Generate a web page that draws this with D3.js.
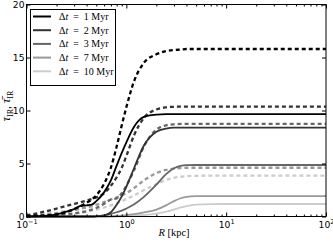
<!doctype html>
<html>
<head>
<style>
    body { margin: 0; background: #fff; }
    .tick text { font-family: "DejaVu Sans", sans-serif; font-size: 9.2px; fill: #000; }
    .serif { font-family: "Liberation Serif", "DejaVu Serif", serif; }
</style>
<script src="https://cdn.jsdelivr.net/npm/d3@7/dist/d3.min.js"></script>
</head>
<body>
<svg width="333" height="245"></svg>
<script>
// radius grid (kpc) shared by every curve
var radiusKpc = [0.1, 0.15, 0.2, 0.25, 0.3, 0.35, 0.4, 0.45, 0.5, 0.6, 0.7, 0.8, 0.9, 1.0,
                 1.2, 1.5, 2, 2.5, 3, 3.5, 4, 5, 7, 10, 20, 50, 100];

// solid = tau_IR, dashed = tau_IR bar
var tau1    = [0, 0.05, 0.2, 0.45, 0.7, 1.0, 1.05, 1.12, 1.45, 2.3, 3.4, 4.8, 6.0, 7.0,
               8.5, 9.4, 9.62, 9.65, 9.65, 9.65, 9.65, 9.65, 9.65, 9.65, 9.65, 9.65, 9.65];
var tauBar1 = [0.05, 0.1, 0.2, 0.4, 0.7, 1.0, 1.3, 1.6, 2.0, 3.1, 4.6, 6.6, 8.6, 10.3,
               12.8, 14.5, 15.3, 15.6, 15.7, 15.75, 15.8, 15.8, 15.8, 15.8, 15.8, 15.8, 15.8];
var tau2    = [0, 0, 0, 0, 0, 0, 0, 0, 0.02, 0.1, 0.4, 1.1, 1.9, 2.8,
               4.6, 6.7, 8.0, 8.3, 8.38, 8.38, 8.38, 8.38, 8.38, 8.38, 8.38, 8.38, 8.38];
var tauBar2 = [0.1, 0.45, 0.75, 1.0, 1.2, 1.35, 1.5, 1.65, 1.8, 2.2, 2.9, 3.7, 4.6, 5.7,
               7.7, 9.3, 10.1, 10.3, 10.35, 10.36, 10.36, 10.36, 10.36, 10.36, 10.36, 10.36, 10.36];
var tau3    = [0, 0, 0, 0, 0, 0, 0, 0, 0.03, 0.1, 0.25, 0.4, 0.55, 0.75,
               1.15, 1.85, 3.0, 4.0, 4.55, 4.78, 4.84, 4.86, 4.86, 4.86, 4.86, 4.86, 4.86];
var tauBar3 = [0, 0.05, 0.1, 0.2, 0.3, 0.4, 0.5, 0.65, 0.8, 1.2, 1.6, 1.7, 2.2, 2.9,
               4.4, 6.6, 8.2, 8.6, 8.7, 8.73, 8.73, 8.73, 8.73, 8.73, 8.73, 8.73, 8.73];
var tau7    = [0, 0, 0, 0, 0, 0, 0, 0, 0, 0, 0.02, 0.05, 0.08, 0.12,
               0.22, 0.38, 0.65, 1.05, 1.45, 1.72, 1.86, 1.92, 1.93, 1.93, 1.93, 1.93, 1.93];
var tauBar7 = [0.05, 0.2, 0.35, 0.5, 0.6, 0.75, 0.85, 0.95, 1.1, 1.35, 1.6, 1.8, 2.0, 2.2,
               2.7, 3.4, 4.1, 4.4, 4.52, 4.57, 4.6, 4.6, 4.6, 4.6, 4.6, 4.6, 4.6];
var tau10   = [0, 0, 0, 0, 0, 0, 0, 0, 0, 0, 0, 0, 0.01, 0.03,
               0.07, 0.14, 0.28, 0.45, 0.65, 0.85, 0.98, 1.12, 1.17, 1.18, 1.18, 1.18, 1.18];
var tauBar10 = [0, 0.03, 0.08, 0.15, 0.25, 0.35, 0.45, 0.55, 0.65, 0.85, 1.05, 1.25, 1.45, 1.65,
                2.0, 2.5, 3.05, 3.45, 3.65, 3.75, 3.8, 3.84, 3.85, 3.85, 3.85, 3.85, 3.85];

var deltaT = ["1", "2", "3", "7", "10"];
var yTicks = [0, 5, 10, 15, 20];
var xTicks = [0.1, 1, 10, 100];
var xTickExp = ["\u22121", "0", "1", "2"];

var solidSeries = [tau1, tau2, tau3, tau7, tau10];
var dashedSeries = [tauBar1, tauBar2, tauBar3, tauBar7, tauBar10];
var colors = ["#000000", "#333333", "#666666", "#999999", "#cccccc"];

var svg = d3.select("svg"),
    plotLeft = 26.5, plotRight = 326, plotTop = 4.5, plotBottom = 216.5;

var x = d3.scaleLog().domain([0.1, 100]).range([plotLeft, plotRight]),
    y = d3.scaleLinear().domain([0, 20]).range([plotBottom, plotTop]);

// minor ticks for log axis
var minor = [];
[0.1, 1, 10].forEach(function(d) {
    for (var m = 2; m <= 9; m++) minor.push(d * m);
});

var line = d3.line()
    .x(function(d) { return x(d[0]); })
    .y(function(d) { return y(d[1]); })
    .curve(d3.curveMonotoneX);

var plot = svg.append("g");

// draw light curves first so darker ones sit on top
for (var i = colors.length - 1; i >= 0; i--) {
    plot.append("path")
        .datum(radiusKpc.map(function(r, k) { return [r, dashedSeries[i][k]]; }))
        .attr("fill", "none")
        .attr("stroke", colors[i])
        .attr("stroke-width", 2.3)
        .attr("stroke-dasharray", "4,3")
        .attr("d", line);
    plot.append("path")
        .datum(radiusKpc.map(function(r, k) { return [r, solidSeries[i][k]]; }))
        .attr("fill", "none")
        .attr("stroke", colors[i])
        .attr("stroke-width", 1.8)
        .attr("d", line);
}

// axes, ticks pointing inward
function noDomain(g) { g.select(".domain").remove(); }

svg.append("g")
   .attr("transform", "translate(0," + plotBottom + ")")
   .call(d3.axisBottom(x).tickValues(minor).tickFormat("").tickSizeInner(-2).tickSizeOuter(0))
   .call(noDomain);
var xAx = svg.append("g")
   .attr("transform", "translate(0," + plotBottom + ")")
   .call(d3.axisBottom(x).tickValues(xTicks).tickFormat("").tickSizeInner(-4).tickSizeOuter(0))
   .call(noDomain);
xAx.selectAll(".tick text").each(function(d, i) {
    var t = d3.select(this).attr("dy", null).attr("y", 11);
    t.append("tspan").text("10");
    t.append("tspan").attr("dy", -4).attr("font-size", "6.5px").text(xTickExp[i]);
});

svg.append("g")
   .attr("transform", "translate(0," + plotTop + ")")
   .call(d3.axisTop(x).tickValues(minor).tickFormat("").tickSizeInner(-2).tickSizeOuter(0))
   .call(noDomain);
svg.append("g")
   .attr("transform", "translate(0," + plotTop + ")")
   .call(d3.axisTop(x).tickValues(xTicks).tickFormat("").tickSizeInner(-4).tickSizeOuter(0))
   .call(noDomain);

svg.append("g")
   .attr("transform", "translate(" + plotLeft + ",0)")
   .call(d3.axisLeft(y).tickValues(yTicks).tickSizeInner(-4).tickSizeOuter(0).tickPadding(2))
   .call(noDomain);
svg.append("g")
   .attr("transform", "translate(" + plotRight + ",0)")
   .call(d3.axisRight(y).tickValues(yTicks).tickFormat("").tickSizeInner(-4).tickSizeOuter(0))
   .call(noDomain);

svg.selectAll(".tick line").attr("stroke", "#000");

svg.append("rect")
   .attr("x", plotLeft).attr("y", plotTop)
   .attr("width", plotRight - plotLeft).attr("height", plotBottom - plotTop)
   .attr("fill", "none").attr("stroke", "#000").attr("stroke-width", 1);

// axis titles
var xl = svg.append("text").attr("class", "serif")
   .attr("x", 174).attr("y", 236)
   .attr("text-anchor", "middle").attr("font-size", "10.5px");
xl.append("tspan").attr("font-style", "italic").text("R");
xl.append("tspan").text(" [kpc]");

var yl = svg.append("text").attr("class", "serif")
   .attr("transform", "translate(10,106) rotate(-90)")
   .attr("text-anchor", "middle").attr("font-size", "12px");
yl.append("tspan").attr("font-style", "italic").text("\u03c4");
yl.append("tspan").attr("dy", 2.5).attr("font-size", "8px").text("IR");
yl.append("tspan").attr("dy", -2.5).text(", ");
yl.append("tspan").attr("font-style", "italic").text("\u03c4\u0304");
yl.append("tspan").attr("dy", 2.5).attr("font-size", "8px").text("IR");

// legend
var legend = svg.append("g");
legend.append("rect")
   .attr("x", 30.5).attr("y", 9.5).attr("width", 85).attr("height", 76)
   .attr("fill", "#fff").attr("stroke", "#000").attr("stroke-width", 1);

deltaT.forEach(function(dt, i) {
    var ly = 16.5 + i * 13.7;
    legend.append("line")
       .attr("x1", 33).attr("x2", 51).attr("y1", ly).attr("y2", ly)
       .attr("stroke", colors[i]).attr("stroke-width", 2);
    var t = legend.append("text").attr("class", "serif")
       .attr("x", 59).attr("y", ly + 3.5).attr("font-size", "10px");
    t.append("tspan").text("\u0394");
    t.append("tspan").attr("font-style", "italic").text("t");
    t.append("tspan").text("\u2002=\u2002" + dt + " Myr");
});
</script>
</body>
</html>
